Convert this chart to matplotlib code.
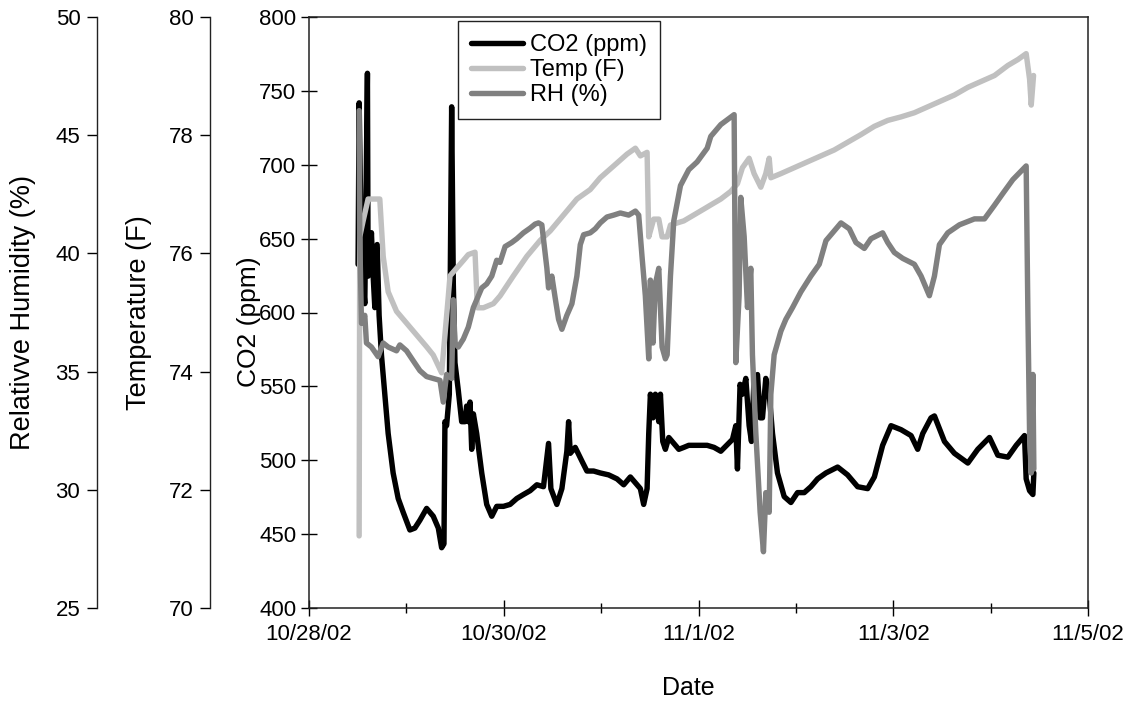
import numpy as np
import pandas as pd
import matplotlib
matplotlib.use("Agg")
import matplotlib.pyplot as plt
import matplotlib.dates as mdates
from matplotlib.ticker import FuncFormatter, MultipleLocator

plt.rcParams['font.family'] = ['Liberation Sans', 'DejaVu Sans']

# days since 10/28/02 00:00
co2_days = [0.504, 0.515, 0.539, 0.573, 0.600, 0.607, 0.624, 0.641, 0.659, 0.676,
            0.700, 0.720, 0.744, 0.779, 0.813, 0.864, 0.916, 0.967, 1.036, 1.087,
            1.139, 1.208, 1.276, 1.328, 1.362, 1.386, 1.396, 1.413, 1.441, 1.465,
            1.482, 1.499, 1.533, 1.568, 1.602, 1.619, 1.636, 1.654, 1.671, 1.688,
            1.722, 1.774, 1.825, 1.877, 1.928, 1.997, 2.065, 2.134, 2.202, 2.271,
            2.340, 2.408, 2.460, 2.484, 2.545, 2.597, 2.648, 2.666, 2.683, 2.734,
            2.803, 2.854, 2.923, 2.991, 3.077, 3.163, 3.232, 3.300, 3.352, 3.403,
            3.437, 3.472, 3.489, 3.506, 3.533, 3.557, 3.592, 3.609, 3.633, 3.660,
            3.695, 3.746, 3.798, 3.849, 3.900, 3.986, 4.089, 4.160, 4.229, 4.349,
            4.383, 4.400, 4.427, 4.451, 4.486, 4.520, 4.544, 4.571, 4.606, 4.633,
            4.657, 4.691, 4.726, 4.760, 4.811, 4.880, 4.949, 5.017, 5.086, 5.154,
            5.223, 5.309, 5.429, 5.531, 5.634, 5.737, 5.806, 5.891, 5.977, 6.080,
            6.183, 6.251, 6.303, 6.388, 6.423, 6.526, 6.628, 6.766, 6.868, 6.988,
            7.074, 7.177, 7.263, 7.348, 7.365, 7.400, 7.434, 7.444]
co2_ppm = [632.6, 741.9, 635.3, 606.0, 761.9, 624.6, 627.3, 654.0, 624.6, 603.3,
           646.0, 598.0, 571.3, 544.7, 518.1, 491.4, 474.1, 464.8, 452.8, 454.1,
           459.4, 467.4, 462.1, 454.1, 440.8, 443.4, 526.1, 523.4, 544.7, 739.2,
           619.3, 566.0, 547.4, 526.1, 526.1, 536.7, 526.1, 539.4, 507.4, 531.4,
           518.1, 491.4, 470.1, 462.1, 468.8, 468.8, 470.1, 474.1, 476.8, 479.4,
           483.4, 482.1, 511.4, 480.8, 470.1, 480.8, 506.1, 526.1, 504.7, 508.7,
           499.4, 492.7, 492.7, 491.4, 490.1, 487.4, 483.4, 488.7, 484.7, 480.8,
           470.1, 480.8, 518.1, 544.7, 528.7, 544.7, 526.1, 544.7, 512.7, 507.4,
           515.4, 511.4, 507.4, 508.7, 510.1, 510.1, 510.1, 508.7, 506.1, 514.1,
           523.4, 494.1, 551.4, 544.7, 555.4, 523.4, 512.7, 555.4, 558.0, 528.7,
           528.7, 555.4, 544.7, 518.1, 491.4, 475.4, 471.4, 478.1, 478.1, 482.1,
           487.4, 491.4, 495.4, 490.1, 482.1, 480.8, 488.7, 510.1, 523.4, 520.7,
           516.7, 507.4, 518.1, 528.7, 530.0, 512.7, 504.7, 498.1, 507.4, 515.4,
           503.4, 502.1, 510.1, 516.7, 487.4, 479.4, 476.8, 491.4]

temp_days = [0.515, 0.521, 0.556, 0.607, 0.727, 0.762, 0.813, 0.899, 1.002, 1.105,
             1.208, 1.276, 1.362, 1.396, 1.431, 1.448, 1.516, 1.585, 1.636, 1.705,
             1.729, 1.791, 1.894, 1.962, 2.099, 2.237, 2.374, 2.477, 2.614, 2.751,
             2.888, 2.991, 3.129, 3.266, 3.352, 3.403, 3.472, 3.489, 3.540, 3.592,
             3.626, 3.678, 3.712, 3.849, 3.952, 4.055, 4.126, 4.229, 4.332, 4.400,
             4.451, 4.520, 4.571, 4.640, 4.691, 4.726, 4.743, 4.846, 4.983, 5.120,
             5.257, 5.394, 5.531, 5.668, 5.806, 5.943, 6.080, 6.217, 6.354, 6.491,
             6.628, 6.766, 6.903, 7.040, 7.177, 7.280, 7.365, 7.400, 7.417, 7.441]
temp_f = [71.22, 76.28, 76.55, 76.92, 76.92, 75.95, 75.35, 75.02, 74.82, 74.62,
          74.42, 74.28, 73.98, 74.62, 75.28, 75.62, 75.75, 75.88, 75.98, 76.02,
          75.08, 75.08, 75.15, 75.28, 75.62, 75.95, 76.22, 76.38, 76.65, 76.92,
          77.08, 77.28, 77.48, 77.68, 77.78, 77.65, 77.71, 76.28, 76.58, 76.58,
          76.28, 76.28, 76.48, 76.55, 76.65, 76.75, 76.82, 76.92, 77.05, 77.18,
          77.45, 77.61, 77.35, 77.12, 77.35, 77.61, 77.28, 77.35, 77.45, 77.55,
          77.65, 77.75, 77.88, 78.01, 78.15, 78.25, 78.31, 78.38, 78.48, 78.58,
          78.68, 78.81, 78.91, 79.01, 79.18, 79.28, 79.38, 78.95, 78.51, 79.01]

rh_days = [0.515, 0.521, 0.539, 0.573, 0.590, 0.641, 0.710, 0.762, 0.813, 0.899,
           0.933, 1.002, 1.070, 1.139, 1.208, 1.276, 1.345, 1.379, 1.413, 1.465,
           1.482, 1.499, 1.533, 1.585, 1.636, 1.688, 1.774, 1.825, 1.877, 1.928,
           1.962, 2.014, 2.082, 2.134, 2.202, 2.271, 2.322, 2.357, 2.391, 2.443,
           2.460, 2.494, 2.528, 2.563, 2.597, 2.648, 2.700, 2.751, 2.786, 2.820,
           2.888, 2.940, 2.991, 3.060, 3.129, 3.197, 3.283, 3.352, 3.386, 3.420,
           3.454, 3.489, 3.506, 3.533, 3.557, 3.592, 3.626, 3.660, 3.678, 3.712,
           3.746, 3.815, 3.900, 3.986, 4.089, 4.126, 4.229, 4.366, 4.383, 4.417,
           4.434, 4.469, 4.503, 4.537, 4.554, 4.589, 4.633, 4.667, 4.691, 4.726,
           4.743, 4.777, 4.846, 4.897, 4.966, 5.051, 5.154, 5.240, 5.309, 5.377,
           5.463, 5.549, 5.617, 5.703, 5.771, 5.891, 5.943, 6.011, 6.097, 6.217,
           6.286, 6.371, 6.423, 6.474, 6.560, 6.680, 6.834, 6.937, 7.040, 7.126,
           7.228, 7.365, 7.383, 7.400, 7.417, 7.434, 7.444]
rh_pct = [46.04, 40.71, 37.04, 37.38, 36.21, 36.04, 35.63, 36.21, 36.04, 35.88,
          36.13, 35.88, 35.46, 35.04, 34.79, 34.71, 34.63, 33.71, 34.88, 34.71,
          38.04, 36.21, 36.04, 36.38, 36.88, 37.71, 38.54, 38.71, 39.04, 39.71,
          39.62, 40.29, 40.46, 40.62, 40.87, 41.07, 41.24, 41.29, 41.21, 39.37,
          38.54, 39.04, 38.12, 37.21, 36.79, 37.38, 37.87, 39.04, 40.37, 40.79,
          40.87, 41.04, 41.29, 41.54, 41.62, 41.71, 41.62, 41.79, 41.62, 39.87,
          38.21, 35.54, 38.87, 36.21, 38.71, 39.37, 36.04, 35.54, 35.71, 39.04,
          41.37, 42.87, 43.54, 43.87, 44.45, 44.95, 45.45, 45.87, 35.38, 38.21,
          42.37, 40.71, 37.71, 39.37, 35.71, 32.38, 29.05, 27.38, 29.88, 29.05,
          34.04, 35.71, 36.71, 37.21, 37.71, 38.37, 39.04, 39.54, 40.54, 40.87,
          41.29, 41.04, 40.46, 40.21, 40.62, 40.87, 40.46, 40.04, 39.79, 39.54,
          39.04, 38.21, 39.04, 40.37, 40.87, 41.21, 41.46, 41.46, 42.04, 42.54,
          43.12, 43.70, 37.38, 32.38, 30.71, 34.88, 30.88]

start = pd.Timestamp('2002-10-28')
major_dates = ['2002-10-28', '2002-10-30', '2002-11-01', '2002-11-03', '2002-11-05']
minor_dates = ['2002-10-29', '2002-10-31', '2002-11-02', '2002-11-04']


def to_time(days):
    return start + pd.to_timedelta(np.array(days), unit='D')


W, H = 1123, 710
PX = 72 / 100  # points per pixel at dpi 100
fig = plt.figure(figsize=(W / 100, H / 100), dpi=100)
ax = fig.add_axes([309 / W, 1 - 608 / H, 779 / W, 591 / H])
ax_t = ax.twinx()
ax_r = ax.twinx()

line_kw = dict(lw=3.9, solid_joinstyle='round', solid_capstyle='round')
h1, = ax.plot(to_time(co2_days), co2_ppm, color='#000000', label='CO2 (ppm)', **line_kw)
h2, = ax_t.plot(to_time(temp_days), temp_f, color='#C0C0C0', label='Temp (F)', **line_kw)
h3, = ax_r.plot(to_time(rh_days), rh_pct, color='#808080', label='RH (%)', **line_kw)

# x axis: dates
ax.set_xlim(pd.Timestamp(major_dates[0]), pd.Timestamp(major_dates[-1]))
ax.set_xticks([pd.Timestamp(d) for d in major_dates])
ax.set_xticks([pd.Timestamp(d) for d in minor_dates], minor=True)


def date_fmt(v, pos):
    d = mdates.num2date(v)
    return f"{d.month}/{d.day}/{d:%y}"


ax.xaxis.set_major_formatter(FuncFormatter(date_fmt))
ax.tick_params(axis='x', which='major', direction='inout', length=11, width=1, pad=6, labelsize=16)
ax.tick_params(axis='x', which='minor', direction='inout', length=7, width=1)
ax.set_xlabel('Date', fontsize=18)
ax.xaxis.set_label_coords(0.487, -0.115)

# main y axis: CO2
ax.set_ylim(400, 800)
ax.yaxis.set_major_locator(MultipleLocator(50))
ax.tick_params(axis='y', direction='inout', length=12, width=1, pad=3, labelsize=16)
ax.set_ylabel('CO2 (ppm)', fontsize=19)
ax.yaxis.set_label_coords(-0.062, 0.485)
for s in ax.spines.values():
    s.set_linewidth(1.1)
    s.set_color('#222222')

# extra axes on the left (offsets given in pixels)
for a, off, lo, hi, step, lab, lx in [(ax_t, 99, 70, 80, 2, 'Temperature (F)', -0.2015),
                                      (ax_r, 212, 25, 50, 5, 'Relativve Humidity (%)', -0.3505)]:
    a.set_ylim(lo, hi)
    a.yaxis.set_major_locator(MultipleLocator(step))
    a.spines['left'].set_position(('outward', off * PX))
    a.spines['left'].set_visible(True)
    a.spines['left'].set_linewidth(1.0)
    a.spines['left'].set_color('#222222')
    for k in ['right', 'top', 'bottom']:
        a.spines[k].set_visible(False)
    a.yaxis.set_ticks_position('left')
    a.yaxis.set_label_position('left')
    a.tick_params(axis='y', direction='out', length=7, width=1, pad=5, labelsize=16)
    a.set_ylabel(lab, fontsize=19.5)
    a.yaxis.set_label_coords(lx, 0.5)

leg = ax_r.legend(handles=[h1, h2, h3], loc='upper left', bbox_to_anchor=(0.191, 0.993),
                  borderaxespad=0, fontsize=17, frameon=True, fancybox=False,
                  framealpha=1, edgecolor='#222222', borderpad=0.55, handlelength=2.2,
                  handletextpad=0.3, labelspacing=0.12)
leg.get_frame().set_linewidth(1.0)

fig.savefig('out.png', dpi=100)
